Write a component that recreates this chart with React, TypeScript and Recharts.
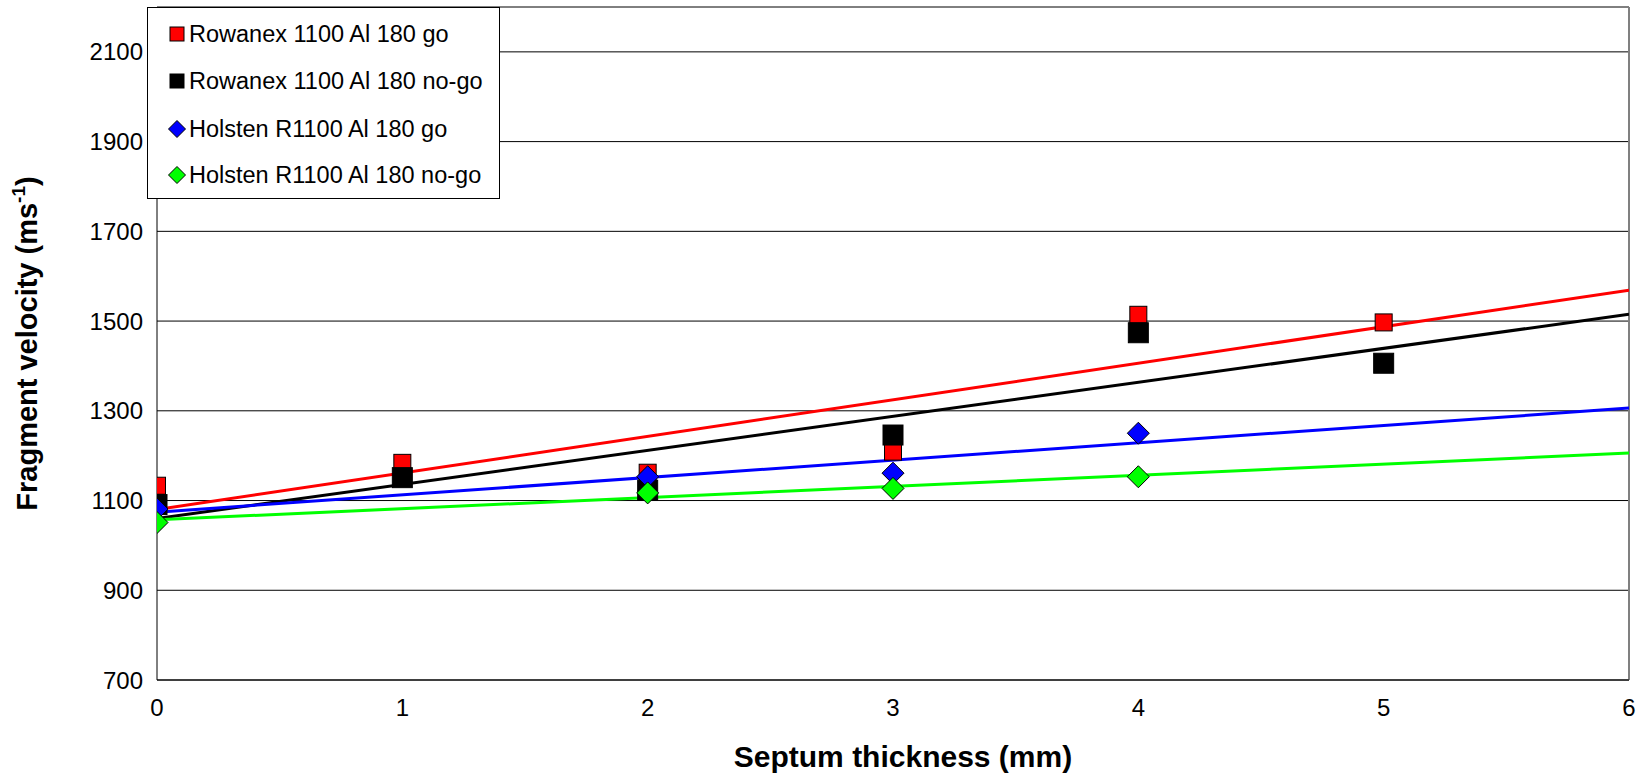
import {
  ComposedChart,
  CartesianGrid,
  Legend,
  Line,
  ReferenceLine,
  Scatter,
  XAxis,
  YAxis,
} from 'recharts';

// Septum thickness (mm)
const rowanexX = [0, 1, 2, 3, 4, 5];
const holstenX = [0, 2, 3, 4];

// Fragment velocity (m/s)
const rowanexGo = [1133, 1184, 1162, 1209, 1514, 1497];
const rowanexNoGo = [1091, 1151, 1123, 1246, 1474, 1406];
const holstenGo = [1081, 1153, 1161, 1250];
const holstenNoGo = [1051, 1117, 1127, 1153];

// linear trendlines, read at x = 0 and x = 6
const trendX = [0, 6];
const rowanexGoTrend = [1080, 1569];
const rowanexNoGoTrend = [1060, 1515];
const holstenGoTrend = [1074, 1306];
const holstenNoGoTrend = [1057, 1206];

const xTicks = [0, 1, 2, 3, 4, 5, 6];
const yTicks = [700, 900, 1100, 1300, 1500, 1700, 1900, 2100];

const FONT = "'Liberation Sans', Arial, sans-serif";

const pts = (xs: number[], ys: number[]) => xs.map((x, i) => ({ x, y: ys[i] }));

type Series = {
  name: string;
  fill: string;
  stroke: string;
  shape: 'square' | 'diamond';
  size: number;
  x: number[];
  y: number[];
  trend: number[];
};

const series: Series[] = [
  { name: 'Rowanex 1100 Al 180 go', fill: '#ff0000', stroke: '#000', shape: 'square', size: 17, x: rowanexX, y: rowanexGo, trend: rowanexGoTrend },
  { name: 'Rowanex 1100 Al 180 no-go', fill: '#000000', stroke: '#000', shape: 'square', size: 20, x: rowanexX, y: rowanexNoGo, trend: rowanexNoGoTrend },
  { name: 'Holsten R1100 Al 180 go', fill: '#0000ff', stroke: '#000', shape: 'diamond', size: 22, x: holstenX, y: holstenGo, trend: holstenGoTrend },
  { name: 'Holsten R1100 Al 180 no-go', fill: '#00ff00', stroke: '#000', shape: 'diamond', size: 22, x: holstenX, y: holstenNoGo, trend: holstenNoGoTrend },
];

function Marker({ cx, cy, s }: { cx: number; cy: number; s: Series }) {
  const h = s.size / 2;
  if (s.shape === 'square') {
    return <rect x={cx - h} y={cy - h} width={s.size} height={s.size} fill={s.fill} stroke={s.stroke} strokeWidth={1} />;
  }
  return (
    <polygon
      points={`${cx},${cy - h} ${cx + h},${cy} ${cx},${cy + h} ${cx - h},${cy}`}
      fill={s.fill}
      stroke={s.stroke}
      strokeWidth={1}
    />
  );
}

function LegendBox() {
  const rows = [26, 73, 121, 167];
  return (
    <div
      style={{
        width: 353,
        height: 192,
        boxSizing: 'border-box',
        border: '1px solid #000',
        background: '#fff',
        position: 'relative',
        fontFamily: FONT,
        fontSize: 23.5,
        color: '#000',
      }}
    >
      {series.map((s, i) => (
        <div key={s.name} style={{ position: 'absolute', top: rows[i] - 14, left: 0, height: 28, display: 'flex', alignItems: 'center' }}>
          <svg width={24} height={24} style={{ marginLeft: 17 }}>
            <Marker cx={12} cy={12} s={{ ...s, size: s.shape === 'square' ? 14 : 17 }} />
          </svg>
          <span style={{ marginLeft: 0, whiteSpace: 'nowrap' }}>{s.name}</span>
        </div>
      ))}
    </div>
  );
}

const tickStyle = { fontSize: 24, fill: '#000', fontFamily: FONT };

export default function App() {
  return (
    <div style={{ position: 'absolute', left: 0, top: 0, width: 1639, height: 774, background: '#fff' }}>
      <ComposedChart width={1639} height={774} margin={{ top: 7, right: 10, bottom: 0, left: 0 }}>
        <CartesianGrid vertical={false} stroke="#000" strokeWidth={1} />
        <XAxis
          dataKey="x"
          type="number"
          domain={[0, 6]}
          ticks={xTicks}
          height={94}
          tickLine={false}
          tickSize={0}
          tickMargin={19}
          stroke="#000"
          tick={tickStyle}
          allowDataOverflow
          label={(props: any) => {
            const vb = props.viewBox;
            return (
              <text x={vb.x + vb.width / 2 + 10} y={vb.y + 87} textAnchor="middle" fontFamily={FONT} fontSize={30} fontWeight="bold" fill="#000">
                Septum thickness (mm)
              </text>
            );
          }}
        />
        <YAxis
          type="number"
          domain={[700, 2200]}
          ticks={yTicks}
          width={157}
          tickLine={false}
          tickSize={0}
          tickMargin={14}
          stroke="#000"
          tick={tickStyle}
          allowDataOverflow
          label={(props: any) => {
            const vb = props.viewBox;
            const cx = vb.x + 37;
            const cy = vb.y + vb.height / 2;
            return (
              <text x={cx} y={cy} transform={`rotate(-90 ${cx} ${cy})`} textAnchor="middle" fontFamily={FONT} fontSize={29} fontWeight="bold" fill="#000">
                Fragment velocity (ms
                <tspan fontSize={19} dy={-12}>-1</tspan>
                <tspan dy={12}>)</tspan>
              </text>
            );
          }}
        />
        <ReferenceLine y={2200} stroke="#808080" strokeWidth={1} />
        <ReferenceLine x={6} stroke="#808080" strokeWidth={2} />
        {series.map((s) => (
          <Scatter
            key={s.name}
            name={s.name}
            data={pts(s.x, s.y)}
            dataKey="y"
            isAnimationActive={false}
            shape={(p: any) => <Marker cx={p.cx} cy={p.cy} s={s} />}
          />
        ))}
        {series.map((s) => (
          <Line
            key={s.name + '-trend'}
            data={pts(trendX, s.trend)}
            dataKey="y"
            stroke={s.fill}
            strokeWidth={3}
            dot={false}
            activeDot={false}
            legendType="none"
            isAnimationActive={false}
          />
        ))}
        <Legend
          layout="vertical"
          align="center"
          verticalAlign="middle"
          wrapperStyle={{ left: 147, top: 7, width: 353, height: 192 }}
          content={() => <LegendBox />}
        />
      </ComposedChart>
    </div>
  );
}
